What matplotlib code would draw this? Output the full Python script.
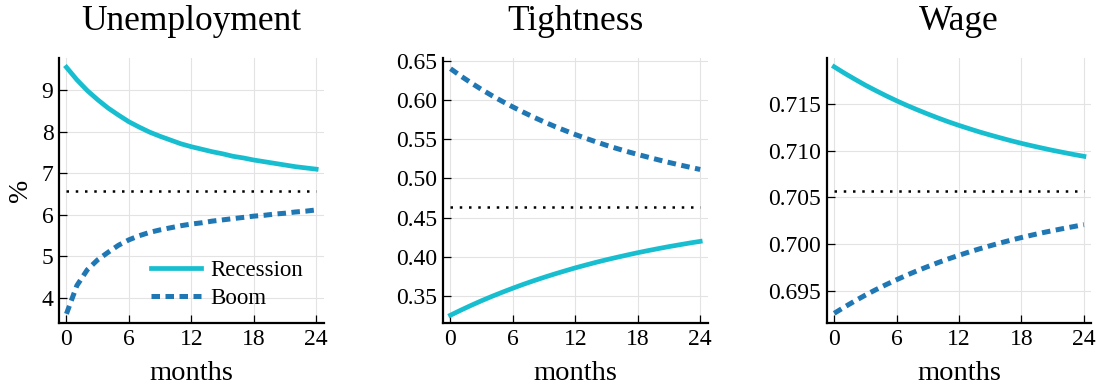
import numpy as np
import matplotlib
matplotlib.use("Agg")
from matplotlib import pyplot as plt
from matplotlib.ticker import FormatStrFormatter

plt.rcParams['font.family'] = ['Liberation Serif', 'DejaVu Serif']

months = np.arange(0, 25)

# unemployment rate, %
unemp_recession = [9.55, 9.25, 8.99, 8.77, 8.57, 8.40, 8.24, 8.11, 7.99, 7.89, 7.80, 7.71, 7.64,
                   7.58, 7.52, 7.47, 7.41, 7.37, 7.32, 7.28, 7.24, 7.20, 7.16, 7.13, 7.10]
unemp_boom = [3.62, 4.30, 4.68, 4.92, 5.10, 5.27, 5.40, 5.50, 5.58, 5.64, 5.69, 5.74, 5.78,
              5.81, 5.85, 5.88, 5.91, 5.94, 5.97, 5.99, 6.02, 6.04, 6.07, 6.09, 6.12]
unemp_ss = 6.58

# labour market tightness
tight_recession = [0.3250, 0.3315, 0.3377, 0.3436, 0.3492, 0.3545, 0.3596, 0.3645, 0.3691,
                   0.3735, 0.3777, 0.3817, 0.3856, 0.3892, 0.3927, 0.3960, 0.3991, 0.4021,
                   0.4050, 0.4077, 0.4103, 0.4128, 0.4151, 0.4174, 0.4195]
tight_boom = [0.6405, 0.6310, 0.6222, 0.6138, 0.6059, 0.5985, 0.5915, 0.5848, 0.5784, 0.5724,
              0.5667, 0.5614, 0.5562, 0.5514, 0.5468, 0.5424, 0.5383, 0.5344, 0.5307, 0.5272,
              0.5238, 0.5205, 0.5174, 0.5144, 0.5115]
tight_ss = 0.463

# wage
wage_recession = [0.71899, 0.71830, 0.71765, 0.71702, 0.71644, 0.71588, 0.71535, 0.71485, 0.71438,
                  0.71393, 0.71350, 0.71309, 0.71271, 0.71235, 0.71200, 0.71168, 0.71137, 0.71107,
                  0.71079, 0.71053, 0.71028, 0.71004, 0.70982, 0.70960, 0.70940]
wage_boom = [0.69258, 0.69326, 0.69391, 0.69453, 0.69511, 0.69566, 0.69618, 0.69668, 0.69715,
             0.69759, 0.69802, 0.69842, 0.69880, 0.69916, 0.69950, 0.69982, 0.70013, 0.70042,
             0.70070, 0.70096, 0.70121, 0.70144, 0.70166, 0.70187, 0.70208]
wage_ss = 0.70572

panels = [
    ('Unemployment', unemp_recession, unemp_boom, unemp_ss,
     [4, 5, 6, 7, 8, 9], '%d', (3.40, 9.77)),
    ('Tightness', tight_recession, tight_boom, tight_ss,
     [0.35, 0.40, 0.45, 0.50, 0.55, 0.60, 0.65], '%.2f', (0.315, 0.654)),
    ('Wage', wage_recession, wage_boom, wage_ss,
     [0.695, 0.700, 0.705, 0.710, 0.715], '%.3f', (0.69154, 0.71992)),
]
lefts = [0.0538, 0.4042, 0.7543]

cyan = '#17becf'
blue = '#1f77b4'

fig = plt.figure(figsize=(10.96, 3.85), dpi=100)
for i, (title, rec, boom, ss, yt, fmt, ylim) in enumerate(panels):
    ax = fig.add_axes([lefts[i], 0.161, 0.2415, 0.688])
    ax.plot(months, rec, color=cyan, lw=3.4, label='Recession')
    ax.plot(months, boom, color=blue, lw=3.6, ls=(0, (1.7, 1.1)), label='Boom')
    ax.plot([months[0], months[-1]], [ss, ss], color='k', lw=1.8, ls=(0, (1, 2.7)))
    ax.set_xlim(-0.72, 24.72)
    ax.set_ylim(*ylim)
    ax.set_xticks([0, 6, 12, 18, 24])
    ax.set_yticks(yt)
    ax.yaxis.set_major_formatter(FormatStrFormatter(fmt))
    ax.grid(True, color='#e3e3e3', lw=0.8)
    ax.set_axisbelow(True)
    for s in ['top', 'right']:
        ax.spines[s].set_visible(False)
    for s in ['left', 'bottom']:
        ax.spines[s].set_linewidth(1.6)
    ax.tick_params(direction='in', length=6, width=0.9, labelsize=17, pad=4)
    ax.set_xlabel('months', fontsize=20.5, labelpad=8)
    ax.set_title(title, fontsize=25.5, pad=20)
    if i == 0:
        ax.set_ylabel('%', fontsize=20, labelpad=6)
        ax.legend(loc='lower right', bbox_to_anchor=(1.0, -0.025), frameon=False, fontsize=16.5,
                  handlelength=2.2, handletextpad=0.4, labelspacing=0.3)

fig.savefig('out.png', dpi=100)
